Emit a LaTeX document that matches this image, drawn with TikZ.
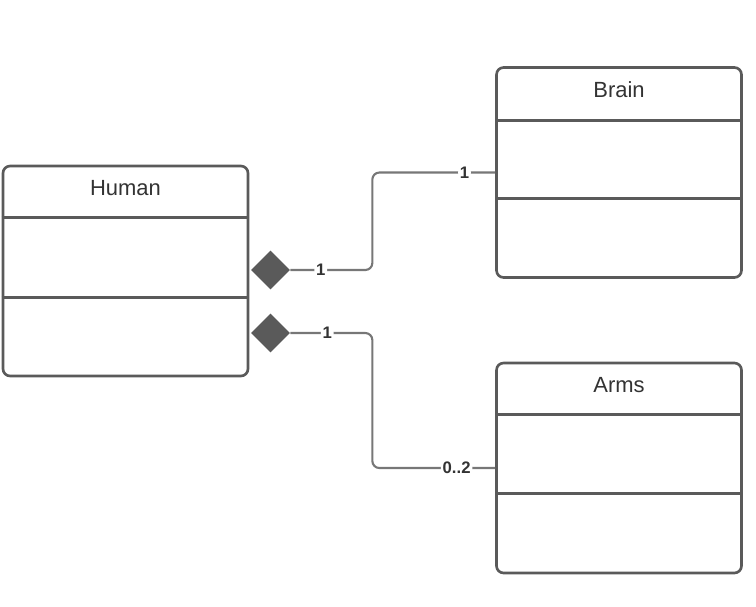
\documentclass[tikz,border=0pt]{standalone}
\usepackage{fontspec}
\setmainfont{Liberation Sans}
\usepackage{tikz}
\usetikzlibrary{positioning,shapes.geometric,calc}

\definecolor{boxgray}{HTML}{5A5A5A}
\definecolor{linegray}{HTML}{777777}
\definecolor{textgray}{HTML}{333333}

\tikzset{
  classbox/.style={draw=boxgray, line width=1.5pt, rounded corners=4pt, fill=white,
    minimum width=4.9cm, minimum height=4.2cm, inner sep=0pt},
  classname/.style={text=textgray, font=\fontsize{12.5}{14}\selectfont},
  divider/.style={draw=boxgray, line width=1.5pt},
  owner/.style={diamond, fill=boxgray, draw=none, minimum size=0.78cm, inner sep=0pt},
  assoc/.style={draw=linegray, line width=1.2pt, rounded corners=4pt},
  mult/.style={fill=white, inner sep=1pt, text=textgray, font=\fontsize{9.5}{11}\selectfont\bfseries}
}

\begin{document}
\begin{tikzpicture}[x=0.02cm,y=-0.02cm]
  \useasboundingbox (0,0) rectangle (756,606);

  % classes
  \node[classbox] (human) at (125.5,271) {};
  \node[classbox] (brain) at (619,172.5) {};
  \node[classbox] (arms) at (619,468) {};

  \node[classname] (humanname) at ($(human.north)+(0,23)$) {Human};
  \node[classname] (brainname) at ($(brain.north)+(0,23)$) {Brain};
  \node[classname] (armsname) at ($(arms.north)+(0,23)$) {Arms};

  % compartments
  \draw[divider] ($(human.north west)+(0,53)$) -- ($(human.north east)+(0,53)$);
  \draw[divider] ($(human.north west)+(0,133)$) -- ($(human.north east)+(0,133)$);
  \draw[divider] ($(brain.north west)+(0,54)$) -- ($(brain.north east)+(0,54)$);
  \draw[divider] ($(brain.north west)+(0,132)$) -- ($(brain.north east)+(0,132)$);
  \draw[divider] ($(arms.north west)+(0,53)$) -- ($(arms.north east)+(0,53)$);
  \draw[divider] ($(arms.north west)+(0,132)$) -- ($(arms.north east)+(0,132)$);

  % composition
  \node[owner] (ownbrain) at (270.5,270) {};
  \node[owner] (ownarms) at (270.5,333) {};

  \draw[assoc] (ownbrain.east) -- ++(82,0) node[mult, pos=0.37] (m1) {1}
    |- (brain.west) node[mult, pos=0.875] (m2) {1};
  \draw[assoc] (ownarms.east) -- ++(82,0) node[mult, pos=0.45] (m3) {1}
    |- (arms.west) node[mult, pos=0.843] (m4) {0..2};
\end{tikzpicture}
\end{document}
